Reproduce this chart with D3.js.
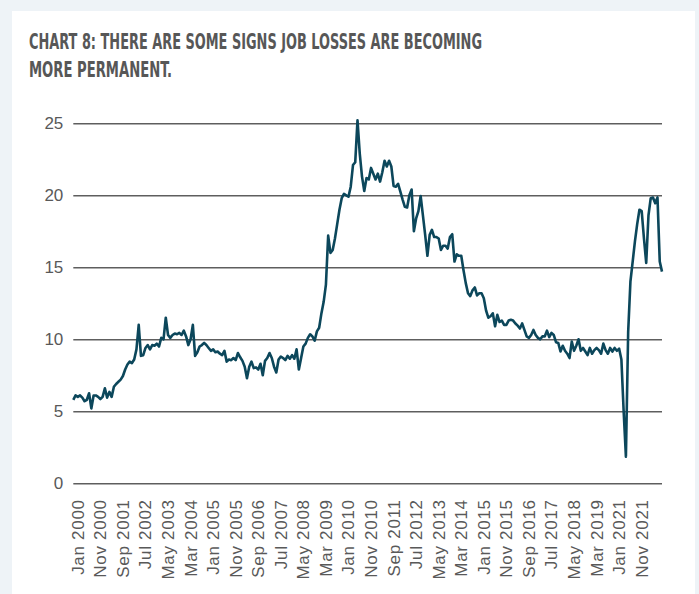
<!DOCTYPE html>
<html>
<head>
<meta charset="utf-8">
<script src="https://cdn.jsdelivr.net/npm/d3@7"></script>
<style>
  html, body { margin: 0; padding: 0; background: #eef3f7; }
  svg { display: block; }
</style>
</head>
<body>
<svg id="chart" width="699" height="594"></svg>
<script>
// Permanent job losses, monthly share (%), Jan 2000 onward
const values = [
  5.8, 6.1, 6.0, 6.1, 5.95, 5.7, 5.8, 6.25, 5.2, 6.1,
  6.1, 6.0, 5.85, 6.0, 6.6, 5.95, 6.35, 6.0, 6.7, 6.9,
  7.05, 7.2, 7.45, 7.9, 8.25, 8.45, 8.35, 8.6, 9.3, 11.0,
  8.85, 8.9, 9.4, 9.6, 9.3, 9.6, 9.55, 9.7, 9.5, 10.1,
  10.0, 11.5, 10.3, 10.1, 10.3, 10.4, 10.35, 10.45, 10.3, 10.6,
  10.2, 9.6, 10.0, 11.0, 8.85, 9.1, 9.5, 9.6, 9.75, 9.6,
  9.4, 9.2, 9.3, 9.1, 9.15, 9.0, 8.9, 9.2, 8.45, 8.6,
  8.55, 8.7, 8.55, 9.05, 8.75, 8.5, 8.1, 7.3, 8.1, 8.45,
  8.0, 8.05, 7.9, 8.3, 7.5, 8.5, 8.7, 9.05, 8.7, 8.1,
  7.7, 8.6, 8.8, 8.7, 8.55, 8.85, 8.65, 8.9, 8.65, 9.3,
  7.9, 8.7, 9.5, 9.7, 10.1, 10.35, 10.2, 9.9, 10.55, 10.8,
  11.8, 12.6, 13.8, 17.2, 16.0, 16.2, 17.0, 18.0, 19.0, 19.8,
  20.1, 20.0, 19.9, 20.6, 22.1, 22.3, 25.2, 22.9, 21.3, 20.3,
  21.2, 21.1, 21.9, 21.5, 21.1, 21.5, 20.95, 21.6, 22.4, 22.0,
  22.4, 22.0, 20.65, 20.6, 20.8, 20.25, 19.7, 19.2, 19.15, 20.0,
  20.4, 17.5, 18.4, 18.9, 19.95, 18.6, 17.25, 15.8, 17.25, 17.6,
  17.1, 17.1, 17.0, 16.2, 16.5, 16.5, 16.3, 17.1, 17.3, 15.4,
  15.9, 15.8, 15.8, 14.8, 13.9, 13.2, 13.0, 13.4, 13.6, 13.05,
  13.2, 13.2, 12.85, 12.0, 11.5, 11.6, 11.8, 10.9, 11.7, 11.2,
  11.3, 11.0, 11.0, 11.3, 11.35, 11.3, 11.1, 10.95, 10.75, 11.1,
  10.65, 10.2, 10.1, 10.3, 10.65, 10.3, 10.1, 10.0, 10.2, 10.2,
  10.6, 10.15, 10.45, 10.3, 9.8, 9.75, 9.15, 9.55, 9.2, 9.0,
  8.7, 9.85, 9.2, 9.55, 10.0, 9.2, 9.4, 9.15, 8.9, 9.4,
  9.0, 9.25, 9.4, 9.25, 9.0, 9.7, 9.25, 9.0, 9.4, 9.15,
  9.4, 9.2, 9.35, 8.6, 5.0, 1.85, 10.5, 14.0, 15.4, 16.8,
  18.0, 19.0, 18.9, 17.0, 15.3, 18.6, 19.8, 19.85, 19.45, 19.85,
  15.4, 14.7
];

// Axis labels, one every ten months
const tickLabels = [
  "Jan 2000", "Nov 2000", "Sep 2001", "Jul 2002", "May 2003", "Mar 2004",
  "Jan 2005", "Nov 2005", "Sep 2006", "Jul 2007", "May 2008", "Mar 2009",
  "Jan 2010", "Nov 2010", "Sep 2011", "Jul 2012", "May 2013", "Mar 2014",
  "Jan 2015", "Nov 2015", "Sep 2016", "Jul 2017", "May 2018", "Mar 2019",
  "Jan 2021", "Nov 2021"
];
const tickStep = 10;
const yTicks = [0, 5, 10, 15, 20, 25];

const titleLines = [
  "CHART 8: THERE ARE SOME SIGNS JOB LOSSES ARE BECOMING",
  "MORE PERMANENT."
];

const svg = d3.select("#chart");

// white card
svg.append("rect")
  .attr("x", 12).attr("y", 11)
  .attr("width", 683).attr("height", 600)
  .attr("fill", "#ffffff");

// title
const titleWidths = [453, 143];
titleLines.forEach((t, i) => {
  svg.append("text")
    .attr("x", 29)
    .attr("y", 48.5 + i * 28)
    .attr("font-family", "'Liberation Sans Narrow', 'DejaVu Sans Condensed', Roboto, sans-serif")
    .attr("font-weight", 700)
    .attr("font-size", 20.5)
    .attr("fill", "#575757")
    .attr("textLength", titleWidths[i])
    .attr("lengthAdjust", "spacingAndGlyphs")
    .text(t);
});

const left = 73.3, right = 662;
const x = d3.scaleLinear()
  .domain([0, values.length - 1])
  .range([left, right]);
const y = d3.scaleLinear()
  .domain([0, 25])
  .range([483.3, 123.3]);

const labelFont = "'Liberation Sans', Arial, Helvetica, sans-serif";

// horizontal grid + y axis labels
const yAxis = d3.axisLeft(y)
  .tickValues(yTicks)
  .tickSize(-(right - left))
  .tickPadding(10)
  .tickFormat(d3.format("d"));

const gy = svg.append("g")
  .attr("transform", `translate(${left},0)`)
  .call(yAxis);
gy.select(".domain").remove();
gy.selectAll(".tick line")
  .attr("stroke", "#5e5e5e")
  .attr("stroke-width", 1.4);
gy.selectAll(".tick text")
  .attr("font-family", labelFont)
  .attr("font-size", 17)
  .attr("fill", "#595959");

// x axis labels (rotated)
const xAxis = d3.axisBottom(x)
  .tickValues(d3.range(0, tickLabels.length).map(i => i * tickStep))
  .tickSize(0)
  .tickFormat(d => tickLabels[d / tickStep]);

const gx = svg.append("g")
  .attr("transform", `translate(0,${y(0)})`)
  .call(xAxis);
gx.select(".domain").remove();
gx.selectAll(".tick text")
  .attr("font-family", labelFont)
  .attr("font-size", 17)
  .attr("letter-spacing", 0.7)
  .attr("fill", "#595959")
  .attr("text-anchor", "end")
  .attr("transform", "translate(4,16) rotate(-90)")
  .attr("x", 0)
  .attr("y", 0)
  .attr("dy", "0.35em");

// series line
const line = d3.line()
  .x((d, i) => x(i))
  .y(d => y(d));

svg.append("path")
  .datum(values)
  .attr("fill", "none")
  .attr("stroke", "#0c475b")
  .attr("stroke-width", 2.6)
  .attr("stroke-linejoin", "round")
  .attr("d", line);
</script>
</body>
</html>
